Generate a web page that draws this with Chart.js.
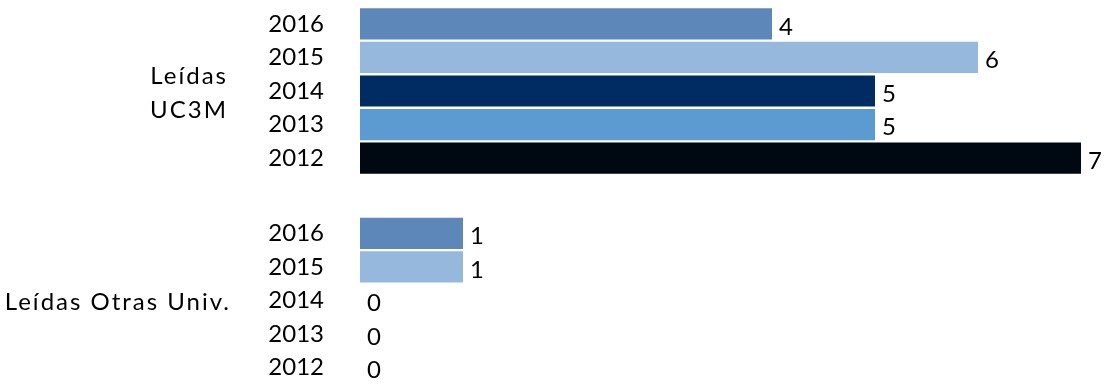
<!DOCTYPE html>
<html>
<head>
<meta charset="utf-8">
<script src="https://cdn.jsdelivr.net/npm/chart.js@4.4.1/dist/chart.umd.min.js"></script>
<style>
  html, body { margin: 0; padding: 0; background: #fff; }
  #wrap { position: relative; width: 1107px; height: 389px; }
  .box { position: absolute; left: 0; width: 1107px; }
  #box1 { top: 0; height: 195px; }
  #box2 { top: 195px; height: 194px; }
</style>
</head>
<body>
<div id="wrap">
  <div class="box" id="box1"><canvas id="chartUc3m"></canvas></div>
  <div class="box" id="box2"><canvas id="chartOtras"></canvas></div>
</div>
<script>
// data
const years = ['2016', '2015', '2014', '2013', '2012'];
const uc3mValues = [4, 6, 5, 5, 7];
const otrasValues = [1, 1, 0, 0, 0];
const groupUc3m = ['Leídas', 'UC3M'];
const groupOtras = ['Leídas Otras Univ.'];
const yearColors = ['#5e87b9', '#95b8dc', '#002b63', '#5b9bd2', '#000812'];

const FONT = 'Lato, "Open Sans", sans-serif';

// value at the end of each bar + group label on the left
const labelPlugin = {
    id: 'labels',
    afterDatasetsDraw(chart, args, opts) {
        const c = chart.ctx;
        const meta = chart.getDatasetMeta(0);
        c.save();
        c.fillStyle = '#000';
        c.font = '24px ' + FONT;
        c.textAlign = 'left';
        c.textBaseline = 'middle';
        meta.data.forEach((bar, i) => {
            c.fillText(String(chart.data.datasets[0].data[i]), bar.x + 7, bar.y + 3);
        });
        // group label (a bit spaced out, the original font is wider)
        const area = chart.chartArea;
        const mid = (area.top + area.bottom) / 2;
        const lines = opts.group;
        const lh = 34;
        c.textAlign = 'right';
        c.letterSpacing = '2px';
        lines.forEach((t, k) => {
            c.fillText(t, opts.right, mid + (k - (lines.length - 1) / 2) * lh + 2);
        });
        c.restore();
    }
};

function makeChart(id, values, group, groupRight, padTop, padBottom) {
    return new Chart(document.getElementById(id), {
        type: 'bar',
        data: {
            labels: years,
            datasets: [{
                data: values,
                backgroundColor: yearColors,
                borderWidth: 0,
                barPercentage: 1,
                categoryPercentage: 0.93
            }]
        },
        options: {
            indexAxis: 'y',
            responsive: true,
            maintainAspectRatio: false,
            animation: false,
            layout: { padding: { top: padTop, bottom: padBottom, left: 0, right: 26 } },
            plugins: {
                legend: { display: false },
                tooltip: { enabled: false },
                labels: { group: group, right: groupRight }
            },
            scales: {
                x: { display: false, min: 0, max: 7 },
                y: {
                    grid: { display: false, drawTicks: false },
                    border: { display: false },
                    ticks: { color: '#000', padding: 36, font: { family: FONT, size: 24 } },
                    afterFit(s) { s.width = 360; s.paddingTop = 0; s.paddingBottom = 0; }
                }
            }
        },
        plugins: [labelPlugin]
    });
}

makeChart('chartUc3m', uc3mValues, groupUc3m, 228, 7, 20);
makeChart('chartOtras', otrasValues, groupOtras, 231, 21.5, 4.5);
</script>
</body>
</html>
